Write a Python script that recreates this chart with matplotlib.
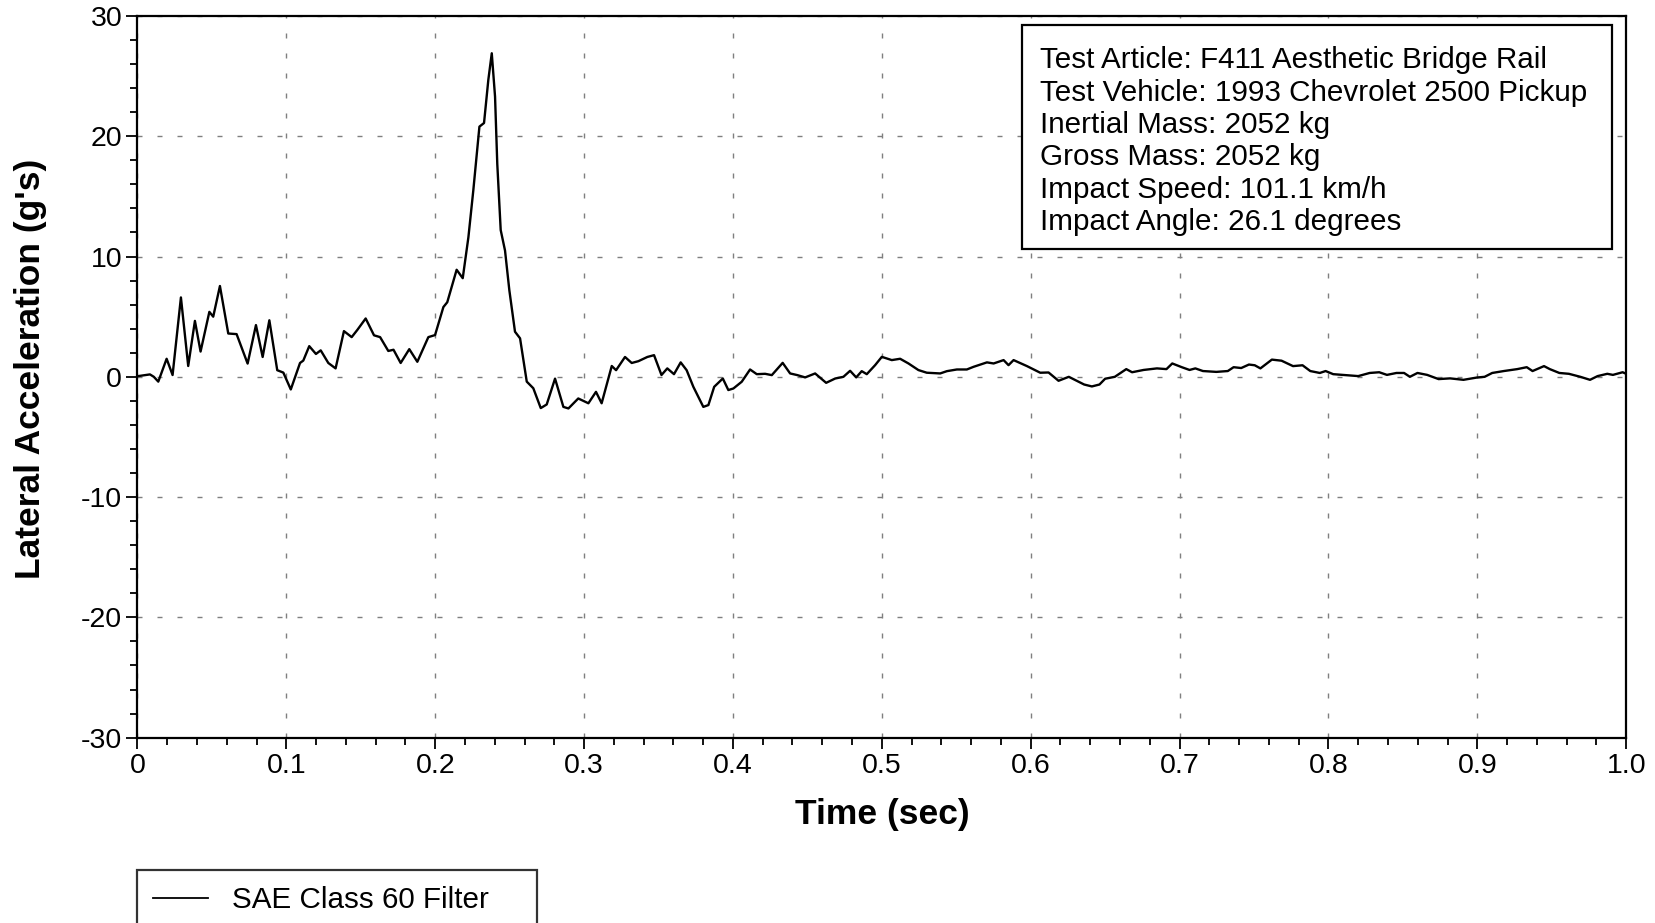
"""Lateral acceleration trace with test info box and legend."""
import matplotlib
matplotlib.use('Agg')
import matplotlib.pyplot as plt
from matplotlib.patches import Rectangle
from matplotlib.ticker import MultipleLocator

plt.rcParams['font.family'] = ['Liberation Sans', 'DejaVu Sans']
plt.rcParams['axes.unicode_minus'] = False

# Trace (time in s, acceleration in g)
time = [0.0, 0.0084, 0.011, 0.014, 0.0196, 0.0236, 0.0292, 0.0341, 0.0386, 0.0424,
        0.0483, 0.0509, 0.0554, 0.061, 0.0666, 0.074, 0.0796, 0.0841, 0.0886, 0.0939,
        0.098, 0.103, 0.1092, 0.1114, 0.1154, 0.1199, 0.1231, 0.1282, 0.1331, 0.1387,
        0.1439, 0.1477, 0.1533, 0.1589, 0.163, 0.1685, 0.172, 0.1768, 0.1826, 0.188,
        0.1954, 0.1999, 0.2055, 0.2081, 0.2144, 0.2185, 0.2223, 0.2256, 0.2297, 0.2328,
        0.2357, 0.238, 0.2402, 0.2417, 0.244, 0.2469, 0.2498, 0.2536, 0.257, 0.2615,
        0.2659, 0.2709, 0.2749, 0.2805, 0.2861, 0.2895, 0.2961, 0.3029, 0.308, 0.3118,
        0.3186, 0.3215, 0.3275, 0.332, 0.3365, 0.3425, 0.347, 0.352, 0.3559, 0.3604,
        0.3649, 0.3689, 0.3734, 0.3801, 0.3835, 0.3874, 0.3932, 0.3969, 0.4003, 0.4059,
        0.4115, 0.416, 0.4216, 0.4261, 0.4334, 0.4384, 0.4433, 0.4485, 0.4552, 0.4626,
        0.4687, 0.4742, 0.4787, 0.4828, 0.4865, 0.4899, 0.4955, 0.5, 0.5067, 0.5123,
        0.5179, 0.5246, 0.5302, 0.5392, 0.5437, 0.5504, 0.5571, 0.5616, 0.5706, 0.5751,
        0.5818, 0.5851, 0.5885, 0.5975, 0.6064, 0.612, 0.6187, 0.6256, 0.6359, 0.6411,
        0.6462, 0.65, 0.6565, 0.6642, 0.6681, 0.6758, 0.6848, 0.6912, 0.6951, 0.7015,
        0.7067, 0.7106, 0.7157, 0.7247, 0.7324, 0.7363, 0.7414, 0.7466, 0.7505, 0.7543,
        0.762, 0.7685, 0.7762, 0.7826, 0.7878, 0.7942, 0.7981, 0.8032, 0.8097, 0.82,
        0.8277, 0.8341, 0.8393, 0.8457, 0.8508, 0.8547, 0.8598, 0.8663, 0.874, 0.8817,
        0.8907, 0.8997, 0.9049, 0.91, 0.9178, 0.9268, 0.9332, 0.9371, 0.9448, 0.9487,
        0.9551, 0.9615, 0.9692, 0.9757, 0.9808, 0.9873, 0.9911, 0.9976, 1.0]
accel = [0.05, 0.2, 0.0, -0.4, 1.5, 0.15, 6.6, 0.9, 4.65, 2.1,
         5.4, 5.0, 7.55, 3.6, 3.55, 1.1, 4.3, 1.65, 4.7, 0.55,
         0.35, -1.05, 1.15, 1.35, 2.55, 1.9, 2.2, 1.15, 0.7, 3.8,
         3.3, 3.9, 4.85, 3.45, 3.3, 2.15, 2.25, 1.15, 2.3, 1.25,
         3.3, 3.47, 5.8, 6.2, 8.9, 8.2, 11.6, 15.5, 20.8, 21.1,
         24.7, 26.9, 23.3, 17.7, 12.2, 10.5, 7.2, 3.75, 3.2, -0.4,
         -0.95, -2.6, -2.3, -0.15, -2.5, -2.63, -1.8, -2.2, -1.25, -2.2,
         0.9, 0.55, 1.65, 1.15, 1.3, 1.65, 1.8, 0.15, 0.7, 0.22,
         1.2, 0.55, -0.83, -2.5, -2.35, -0.83, -0.14, -1.1, -0.97, -0.41,
         0.61, 0.22, 0.25, 0.14, 1.16, 0.28, 0.14, -0.05, 0.28, -0.5,
         -0.14, 0.0, 0.5, -0.05, 0.47, 0.22, 0.97, 1.66, 1.39, 1.5,
         1.11, 0.56, 0.34, 0.28, 0.47, 0.61, 0.61, 0.83, 1.2, 1.11,
         1.39, 0.97, 1.39, 0.89, 0.34, 0.36, -0.33, 0.0, -0.64, -0.8,
         -0.64, -0.16, 0.0, 0.64, 0.38, 0.57, 0.7, 0.64, 1.11, 0.8,
         0.57, 0.7, 0.48, 0.41, 0.48, 0.8, 0.73, 1.02, 0.96, 0.7,
         1.43, 1.34, 0.89, 0.96, 0.48, 0.32, 0.48, 0.22, 0.16, 0.06,
         0.32, 0.38, 0.16, 0.32, 0.32, 0.0, 0.32, 0.16, -0.19, -0.13,
         -0.25, -0.06, 0.0, 0.32, 0.48, 0.64, 0.8, 0.48, 0.89, 0.64,
         0.32, 0.25, 0.0, -0.25, 0.06, 0.25, 0.16, 0.38, 0.25]

info_lines = [
    "Test Article: F411 Aesthetic Bridge Rail",
    "Test Vehicle: 1993 Chevrolet 2500 Pickup",
    "Inertial Mass: 2052 kg",
    "Gross Mass: 2052 kg",
    "Impact Speed: 101.1 km/h",
    "Impact Angle: 26.1 degrees",
]
legend_label = "SAE Class 60 Filter"

fig = plt.figure(figsize=(16.56, 9.23), dpi=100)
ax = fig.add_axes([0.083, 0.2008, 0.899, 0.7819])

line, = ax.plot(time, accel, color='black', linewidth=1.7, label=legend_label)

ax.set_xlim(0, 1.0)
ax.set_ylim(-30, 30)
ax.xaxis.set_major_locator(MultipleLocator(0.1))
ax.xaxis.set_minor_locator(MultipleLocator(0.02))
ax.yaxis.set_major_locator(MultipleLocator(10))
ax.yaxis.set_minor_locator(MultipleLocator(2))
ax.set_xticks([i / 10 for i in range(11)])
ax.set_xticklabels(['0'] + [f"{i / 10:.1f}" for i in range(1, 10)] + ['1.0'])

ax.tick_params(which='major', direction='out', length=8, width=1.3, labelsize=20.5, pad=3)
ax.tick_params(which='minor', direction='out', length=5, width=1.3)
ax.tick_params(top=False, right=False)
for spine in ax.spines.values():
    spine.set_linewidth(1.6)

# Dashed grey grid
ax.grid(True, which='major', color='#7f7f7f', linewidth=1.0, linestyle=(0, (3.6, 10.8)))

ax.set_xlabel("Time (sec)", fontsize=25.5, fontweight='bold')
ax.set_ylabel("Lateral Acceleration (g's)", fontsize=25.5, fontweight='bold')
ax.xaxis.set_label_coords(0.5, -0.083)
ax.yaxis.set_label_coords(-0.061, 0.511)

# Info box in the upper right
ax.add_patch(Rectangle((0.594, 0.677), 0.3966, 0.3105, transform=ax.transAxes,
                       facecolor='white', edgecolor='black', linewidth=1.6, zorder=5))
for i, txt in enumerate(info_lines):
    ax.text(0.6063, 0.9273 - i * 0.04476, txt, transform=ax.transAxes, fontsize=21.3,
            va='baseline', ha='left', zorder=6)

# Legend below the plot
leg = fig.legend(handles=[line], loc='upper left',
                 bbox_to_anchor=(137 / 1656, 1 - 870 / 923, 400 / 1656, 0.0),
                 mode='expand', borderaxespad=0, fancybox=False, fontsize=21.3,
                 handlelength=1.85, handletextpad=0.8, borderpad=0.55)
leg.get_frame().set_edgecolor('black')
leg.get_frame().set_linewidth(1.6)
leg.get_lines()[0].set_linewidth(1.3)

fig.savefig('out.png', dpi=100)
